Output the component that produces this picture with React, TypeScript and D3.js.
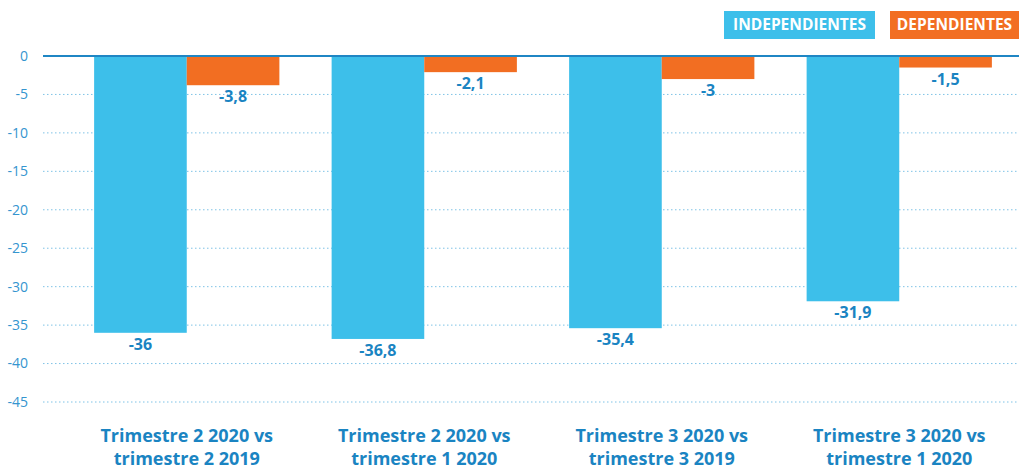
import React from "react";
import * as d3 from "d3";

const categories = [
  ["Trimestre 2 2020 vs", "trimestre 2 2019"],
  ["Trimestre 2 2020 vs", "trimestre 1 2020"],
  ["Trimestre 3 2020 vs", "trimestre 3 2019"],
  ["Trimestre 3 2020 vs", "trimestre 1 2020"],
];
const independientes = [-36, -36.8, -35.4, -31.9];
const dependientes = [-3.8, -2.1, -3, -1.5];
const seriesNames = ["INDEPENDIENTES", "DEPENDIENTES"];
const yTicks = [0, -5, -10, -15, -20, -25, -30, -35, -40, -45];

const colors = ["#3dbfea", "#f26e22"];
const textBlue = "#1a84c2";
const font = "'Open Sans', 'Noto Sans', sans-serif";

const width = 1019;
const height = 468;

const App = () => {
  const x = d3
    .scaleBand<number>()
    .domain(d3.range(categories.length))
    .range([68, 1018])
    .paddingInner(0.22)
    .paddingOuter(0.11);
  const inner = d3
    .scaleBand<number>()
    .domain([0, 1])
    .range([0, x.bandwidth()]);
  const y = d3.scaleLinear().domain([0, -45]).range([56, 402]);

  const fmt = (v: number) => String(v).replace(".", ",");
  const series = [independientes, dependientes];

  return (
    <svg
      width={width}
      height={height}
      style={{ position: "absolute", left: 0, top: 0, fontFamily: font }}
    >
      <rect width={width} height={height} fill="#fff" />
      {yTicks.map((t) => (
        <g key={t}>
          {t !== 0 && (
            <line
              x1={43}
              x2={width}
              y1={y(t)}
              y2={y(t)}
              stroke="#7fc3e6"
              strokeWidth={1}
              strokeDasharray="1.5 2.5"
            />
          )}
          <text
            x={28}
            y={y(t)}
            dy="0.35em"
            textAnchor="end"
            fontSize={14}
            fill="#3595cf"
          >
            {t}
          </text>
        </g>
      ))}
      {series.map((vals, s) =>
        vals.map((v, i) => {
          const bx = x(i)! + inner(s)!;
          return (
            <g key={`${s}-${i}`}>
              <rect
                x={bx}
                y={y(0)}
                width={inner.bandwidth()}
                height={y(v) - y(0)}
                fill={colors[s]}
              />
              <text
                x={bx + inner.bandwidth() / 2}
                y={y(v) + 17}
                textAnchor="middle"
                fontSize={16}
                fontWeight="bold"
                fill={textBlue}
              >
                {fmt(v)}
              </text>
            </g>
          );
        })
      )}
      <line
        x1={43}
        x2={width}
        y1={y(0)}
        y2={y(0)}
        stroke="#1f86c4"
        strokeWidth={2}
      />
      {categories.map((lines, i) => (
        <text
          key={i}
          x={x(i)! + x.bandwidth() / 2}
          textAnchor="middle"
          fontSize={18}
          fontWeight="bold"
          fill={textBlue}
        >
          {lines.map((l, j) => (
            <tspan key={j} x={x(i)! + x.bandwidth() / 2} y={442 + j * 23}>
              {l}
            </tspan>
          ))}
        </text>
      ))}
      {seriesNames.map((n, s) => {
        const lx = s === 0 ? 724 : 890;
        const lw = s === 0 ? 151 : 129;
        return (
          <g key={n}>
            <rect x={lx} y={11} width={lw} height={28} fill={colors[s]} />
            <text
              x={lx + lw / 2}
              y={25}
              dy="0.35em"
              textAnchor="middle"
              fontSize={15.5}
              fontWeight="bold"
              fill="#fff"
            >
              {n}
            </text>
          </g>
        );
      })}
    </svg>
  );
};

export default App;
